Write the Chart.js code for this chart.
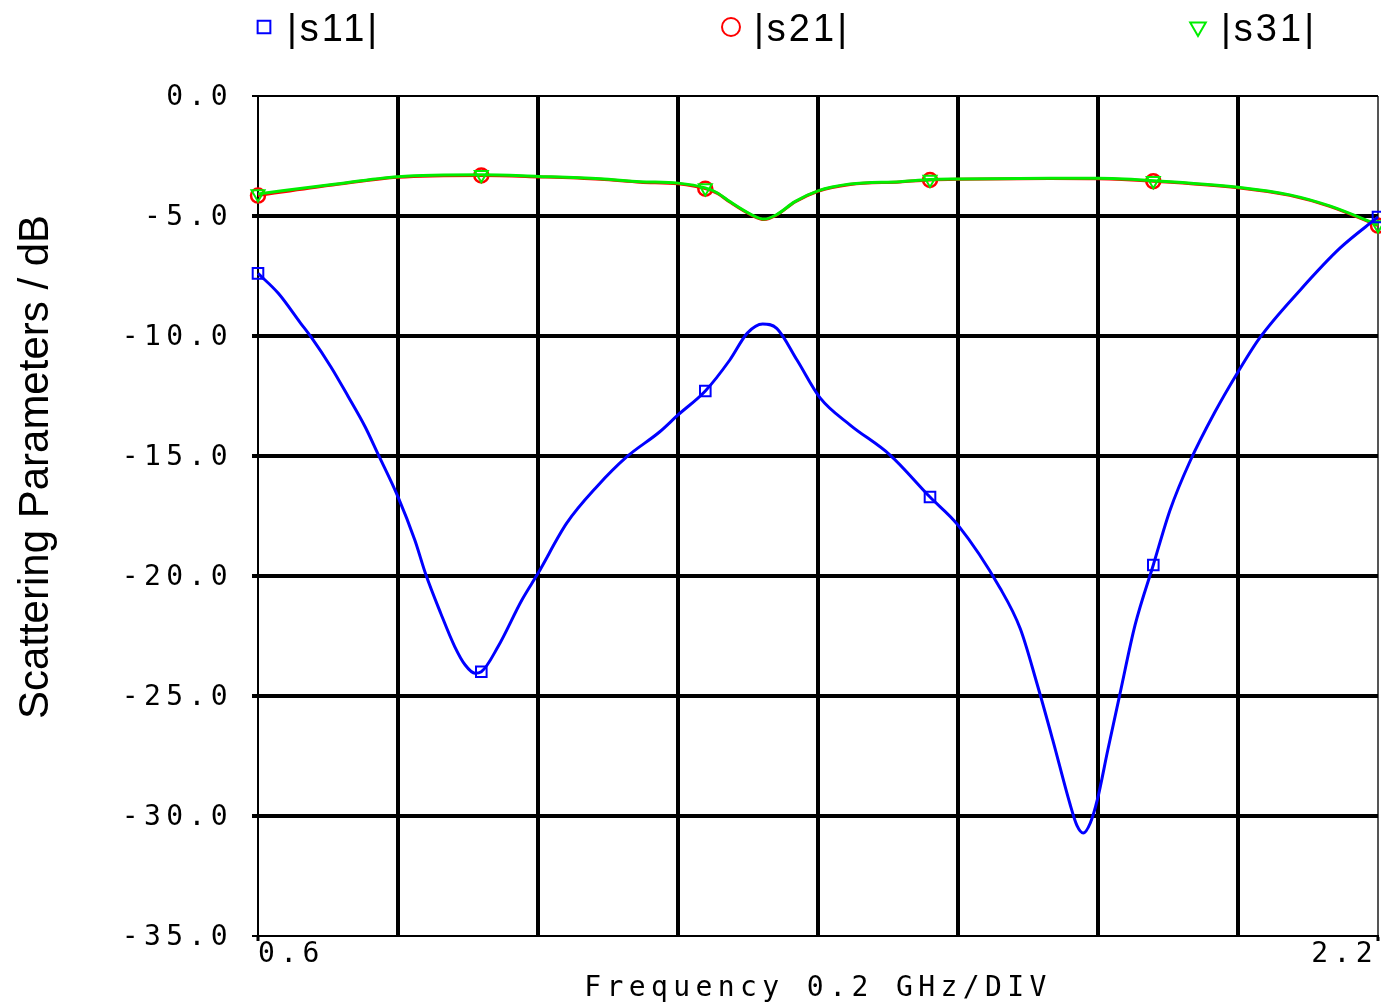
<!DOCTYPE html>
<html>
<head>
<meta charset="utf-8">
<title>Scattering Parameters</title>
<script src="https://cdn.jsdelivr.net/npm/chart.js@4/dist/chart.umd.min.js"></script>
<style>
  html, body { margin: 0; padding: 0; background: #fff; }
  canvas { display: block; }
</style>
</head>
<body>
<canvas id="sparamChart" width="1381" height="1007"></canvas>
<script>
// |s11| reflection, sampled in GHz / dB
const s11Freq = [0.600, 0.629, 0.661, 0.676, 0.704, 0.729, 0.753, 0.771, 0.800, 0.824,
  0.840, 0.861, 0.881, 0.896, 0.910, 0.919, 0.943, 0.977, 1.000, 1.041,
  1.084, 1.127, 1.174, 1.200, 1.239, 1.274, 1.299, 1.321, 1.341, 1.370,
  1.403, 1.446, 1.503, 1.560, 1.600, 1.660, 1.689, 1.713, 1.736, 1.760,
  1.770, 1.779, 1.789, 1.799, 1.814, 1.831, 1.853, 1.879, 1.903, 1.931,
  1.967, 2.000, 2.031, 2.089, 2.146, 2.200];
const s11Db = [-7.39, -8.22, -9.47, -10.05, -11.28, -12.53, -13.78, -14.89, -16.70, -18.50,
  -19.96, -21.55, -22.94, -23.71, -24.05, -23.99, -22.94, -21.00, -19.89, -17.80,
  -16.28, -15.03, -13.99, -13.29, -12.29, -11.00, -9.88, -9.50, -9.68, -11.00,
  -12.58, -13.71, -14.96, -16.71, -17.88, -20.50, -22.20, -24.50, -26.90, -29.50,
  -30.40, -30.71, -30.29, -29.33, -27.25, -24.96, -22.04, -19.54, -17.25, -15.25,
  -13.17, -11.50, -10.08, -8.08, -6.33, -5.04];

// |s21| and |s31| transmission share one frequency grid
const transFreq = [0.600, 0.703, 0.800, 0.919, 1.000, 1.089, 1.146, 1.200, 1.239, 1.257,
  1.274, 1.306, 1.323, 1.340, 1.367, 1.400, 1.446, 1.517, 1.560, 1.600,
  1.731, 1.800, 1.879, 2.000, 2.074, 2.131, 2.200];
const s21Db = [-4.15, -3.72, -3.39, -3.31, -3.37, -3.47, -3.59, -3.66, -3.86, -4.07,
  -4.42, -4.98, -5.15, -4.98, -4.42, -3.97, -3.69, -3.58, -3.50, -3.47,
  -3.44, -3.45, -3.55, -3.82, -4.14, -4.60, -5.40];
const s31Db = [-4.08, -3.70, -3.36, -3.28, -3.35, -3.45, -3.57, -3.63, -3.83, -4.05,
  -4.40, -4.96, -5.13, -4.96, -4.40, -3.95, -3.67, -3.57, -3.48, -3.46,
  -3.43, -3.43, -3.53, -3.80, -4.12, -4.58, -5.37];

// frequencies where the trace markers sit
const markerFreqs = [0.600, 0.919, 1.239, 1.560, 1.879, 2.200];

const seriesLabels = ['|s11|', '|s21|', '|s31|'];

// axis ranges
const FREQ_MIN = 0.6, FREQ_MAX = 2.2, FREQ_STEP = 0.2;
const DB_MIN = -35, DB_MAX = 0, DB_STEP = 5;

const MONO = '"DejaVu Sans Mono", monospace';
const SANS = '"Liberation Sans", Arial, sans-serif';
const PLOT_SPACING = '5.4px';

function toPoints(xs, ys) {
  return xs.map((x, i) => ({ x: x, y: ys[i] }));
}

function isMarker(f) {
  return markerFreqs.some(m => Math.abs(m - f) < 1e-6);
}

function markerRadius(r) {
  return ctx => (ctx.raw && isMarker(ctx.raw.x)) ? r : 0;
}

function isEdge(c) {
  return c.index === 0 || c.index === c.scale.ticks.length - 1;
}

// wrap a scale draw method so its text gets the wide plotter spacing
function wrapDraw(scale, name, before) {
  if (scale['_orig_' + name]) return;
  const orig = scale[name];
  scale['_orig_' + name] = orig;
  scale[name] = function () {
    const ctx = this.ctx;
    ctx.save();
    before(ctx);
    orig.apply(this, arguments);
    ctx.restore();
  };
}

const plotterText = {
  id: 'plotterText',
  afterLayout(chart) {
    const { x, y } = chart.scales;
    const spaced = ctx => { ctx.letterSpacing = PLOT_SPACING; };
    wrapDraw(x, 'drawLabels', spaced);
    wrapDraw(x, 'drawTitle', spaced);
    wrapDraw(y, 'drawLabels', ctx => { spaced(ctx); ctx.translate(0, 2); });
    // y title sits a little above the middle of the axis
    wrapDraw(y, 'drawTitle', ctx => { ctx.translate(0, -49); });
  }
};

// legend row across the top: marker then label
const legendRow = {
  id: 'legendRow',
  afterDraw(chart) {
    const { ctx, chartArea } = chart;
    ctx.save();
    ctx.font = '38px ' + SANS;
    ctx.letterSpacing = '3px';
    ctx.textBaseline = 'middle';
    ctx.textAlign = 'left';
    chart.data.datasets.forEach((ds, i) => {
      const cx = chartArea.left + 6 + i * 467;
      ctx.strokeStyle = ds.borderColor;
      ctx.fillStyle = 'rgba(0,0,0,0)';
      ctx.lineWidth = 2;
      Chart.helpers.drawPoint(ctx, {
        pointStyle: ds.pointStyle,
        rotation: ds.pointRotation || 0,
        radius: 9,
        borderWidth: 2
      }, cx, 27);
      ctx.fillStyle = '#000';
      ctx.fillText(ds.label, cx + 23, 31);
    });
    ctx.restore();
  }
};

const ctx = document.getElementById('sparamChart').getContext('2d');
const sparamChart = new Chart(ctx, {
  type: 'line',
  data: {
    datasets: [{
      label: seriesLabels[0],
      data: toPoints(s11Freq, s11Db),
      order: 0,
      borderColor: '#0000ff',
      borderWidth: 3,
      pointStyle: 'rect',
      pointRadius: markerRadius(7.5),
      pointBorderWidth: 2,
      pointBackgroundColor: 'rgba(0,0,0,0)',
      pointBorderColor: '#0000ff',
      cubicInterpolationMode: 'monotone',
      clip: 10
    }, {
      label: seriesLabels[1],
      data: toPoints(transFreq, s21Db),
      order: 2,
      borderColor: '#ff0000',
      borderWidth: 3,
      pointStyle: 'circle',
      pointRadius: markerRadius(7),
      pointBorderWidth: 2.5,
      pointBackgroundColor: 'rgba(0,0,0,0)',
      pointBorderColor: '#ff0000',
      cubicInterpolationMode: 'monotone',
      clip: 10
    }, {
      label: seriesLabels[2],
      data: toPoints(transFreq, s31Db),
      order: 1,
      borderColor: '#00ee00',
      borderWidth: 3,
      pointStyle: 'triangle',
      pointRotation: 180,
      pointRadius: markerRadius(7.5),
      pointBorderWidth: 2,
      pointBackgroundColor: 'rgba(0,0,0,0)',
      pointBorderColor: '#00ee00',
      cubicInterpolationMode: 'monotone',
      clip: 10
    }]
  },
  options: {
    responsive: false,
    animation: false,
    events: [],
    layout: {
      autoPadding: false,
      padding: { top: 96, right: 3, bottom: 0, left: 0 }
    },
    plugins: {
      legend: { display: false },
      tooltip: { enabled: false }
    },
    scales: {
      x: {
        type: 'linear',
        min: FREQ_MIN,
        max: FREQ_MAX,
        afterFit(scale) {
          scale.height = 71;
          scale.paddingLeft = 0;
          scale.paddingRight = 0;
        },
        grid: {
          color: c => (c.index === c.scale.ticks.length - 1) ? '#555' : '#000',
          lineWidth: c => isEdge(c) ? 2 : 4,
          tickLength: 5,
          tickWidth: 3,
          tickColor: c => isEdge(c) ? '#000' : 'rgba(0,0,0,0)'
        },
        border: { display: true, color: '#000', width: 2 },
        ticks: {
          stepSize: FREQ_STEP,
          autoSkip: false,
          maxRotation: 0,
          align: 'inner',
          padding: 0,
          color: '#000',
          font: { family: MONO, size: 28, lineHeight: 1 },
          callback: (v, i, ticks) => (i === 0 || i === ticks.length - 1) ? v.toFixed(1) : ''
        },
        title: {
          display: true,
          text: 'Frequency 0.2 GHz/DIV',
          color: '#000',
          font: { family: MONO, size: 28, lineHeight: 1.2 },
          padding: { top: 0, bottom: 1 }
        }
      },
      y: {
        type: 'linear',
        min: DB_MIN,
        max: DB_MAX,
        afterFit(scale) {
          scale.width = 258;
          scale.paddingTop = 0;
          scale.paddingBottom = 0;
        },
        grid: {
          color: '#000',
          lineWidth: c => isEdge(c) ? 2 : 4,
          tickLength: 6,
          tickColor: '#000'
        },
        border: { display: true, color: '#000', width: 2 },
        ticks: {
          stepSize: DB_STEP,
          padding: 19,
          color: '#000',
          font: { family: MONO, size: 28 },
          callback: v => v.toFixed(1)
        },
        title: {
          display: true,
          text: 'Scattering Parameters / dB',
          color: '#000',
          font: { family: SANS, size: 42, lineHeight: 1.2 },
          padding: { top: 11, bottom: 0 }
        }
      }
    }
  },
  plugins: [plotterText, legendRow]
});
</script>
</body>
</html>
